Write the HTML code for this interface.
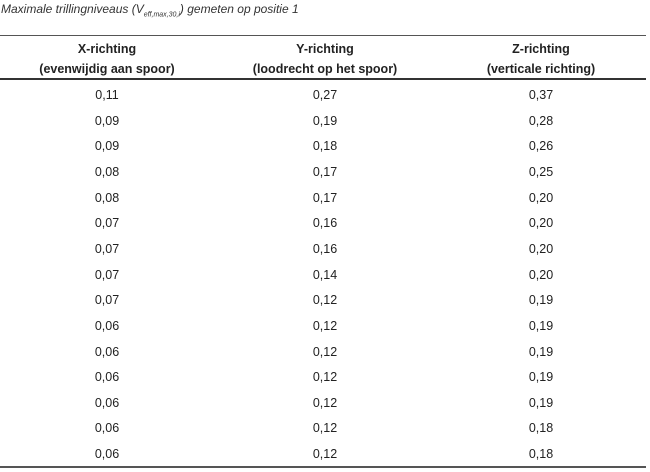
<!DOCTYPE html>
<html><head><style>
body{margin:0;width:650px;height:472px;background:#fff;font-family:"Liberation Sans",sans-serif;color:#222;position:relative;overflow:hidden}
.t{position:absolute;left:1px;top:2px;font-style:italic;font-size:12px;color:#333}
.t sub{font-size:7px}
.l{position:absolute;left:0;width:646px;background:#555}
.c{position:absolute;width:200px;text-align:center;font-size:12.5px;transform:translateX(-50%)}
.h{font-weight:bold;line-height:20px;font-size:12.5px}
</style></head><body>
<div class="t">Maximale trillingniveaus (V<sub>eff,max,30,i</sub>) gemeten op positie 1</div>
<div class="l" style="top:35px;height:1px"></div>
<div class="l" style="top:78px;height:2px;background:#333"></div>
<div class="l" style="top:466px;height:2px"></div>
<div class="c h" style="left:107px;top:39px">X-richting<br>(evenwijdig aan spoor)</div>
<div class="c h" style="left:325px;top:39px">Y-richting<br>(loodrecht op het spoor)</div>
<div class="c h" style="left:541px;top:39px">Z-richting<br>(verticale richting)</div>
<div id="rows"></div>
<script>
var d=[["0,11","0,27","0,37"],["0,09","0,19","0,28"],["0,09","0,18","0,26"],["0,08","0,17","0,25"],["0,08","0,17","0,20"],["0,07","0,16","0,20"],["0,07","0,16","0,20"],["0,07","0,14","0,20"],["0,07","0,12","0,19"],["0,06","0,12","0,19"],["0,06","0,12","0,19"],["0,06","0,12","0,19"],["0,06","0,12","0,19"],["0,06","0,12","0,18"],["0,06","0,12","0,18"]];
var x=[107,325,541],h="";
d.forEach(function(r,i){r.forEach(function(v,j){h+='<div class="c" style="left:'+x[j]+'px;top:'+(88+i*25.65)+'px">'+v+'</div>';});});
document.getElementById("rows").innerHTML=h;
</script>
</body></html>
